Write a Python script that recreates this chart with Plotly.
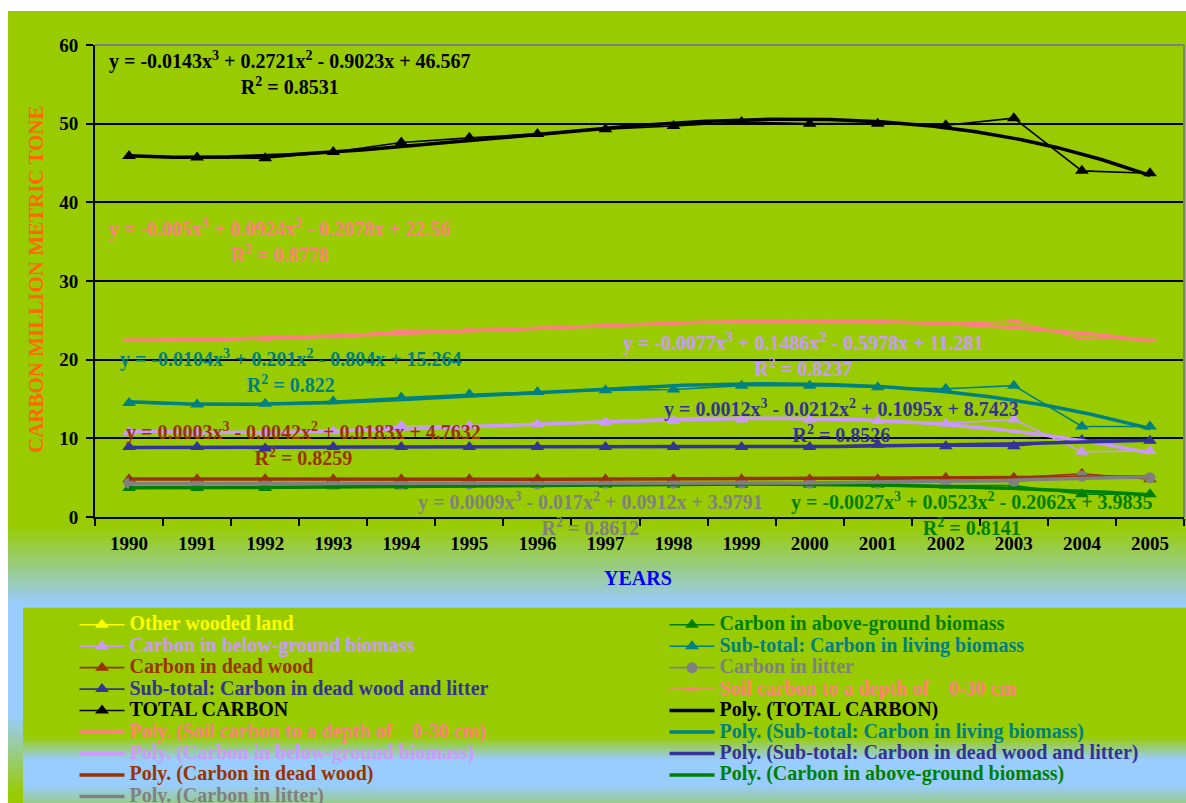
import numpy as np
import plotly.graph_objects as go

# ---------------- data ----------------
years = [str(y) for y in range(1990, 2006)]
other_wooded = [None] * 16
above_ground = [3.7, 3.7, 3.7, 3.9, 3.9, 4.1, 4.1, 4.1, 4.1, 4.1, 4.1, 4.1, 4.0, 4.0, 2.9, 2.9]
below_ground = [10.8, 10.8, 10.7, 10.9, 11.6, 11.6, 11.8, 12.0, 12.2, 12.4, 12.4, 12.2, 11.9, 12.4, 8.3, 8.4]
living_sub = [14.5, 14.3, 14.4, 14.7, 15.2, 15.6, 15.9, 16.1, 16.2, 16.7, 16.7, 16.5, 16.3, 16.7, 11.5, 11.5]
dead_wood = [4.8, 4.8, 4.8, 4.8, 4.8, 4.8, 4.8, 4.8, 4.8, 4.8, 4.8, 4.8, 5.0, 5.0, 5.5, 4.8]
litter = [4.3, 4.2, 4.2, 4.2, 4.2, 4.2, 4.2, 4.3, 4.3, 4.3, 4.3, 4.3, 4.5, 4.5, 5.2, 5.0]
dead_litter_sub = [8.9, 8.9, 8.7, 8.9, 8.9, 8.9, 8.9, 8.9, 8.9, 8.9, 8.9, 9.2, 9.0, 9.0, 9.8, 9.7]
soil = [22.5, 22.5, 22.6, 22.9, 23.7, 23.8, 24.0, 24.4, 24.6, 24.8, 24.8, 24.7, 24.6, 24.9, 22.7, 22.5]
total = [45.9, 45.7, 45.6, 46.4, 47.6, 48.2, 48.7, 49.3, 49.7, 50.2, 50.0, 50.0, 49.8, 50.7, 44.0, 43.7]

eq_total = ["y = -0.0143x<sup>3</sup> + 0.2721x<sup>2</sup> - 0.9023x + 46.567", "R<sup>2</sup> = 0.8531"]
eq_soil = ["y = -0.005x<sup>3</sup> + 0.0924x<sup>2</sup> - 0.2078x + 22.56", "R<sup>2</sup> = 0.8778"]
eq_living = ["y = -0.0104x<sup>3</sup> + 0.201x<sup>2</sup> - 0.804x + 15.264", "R<sup>2</sup> = 0.822"]
eq_below = ["y = -0.0077x<sup>3</sup> + 0.1486x<sup>2</sup> - 0.5978x + 11.281", "R<sup>2</sup> = 0.8237"]
eq_deadlitter = ["y = 0.0012x<sup>3</sup> - 0.0212x<sup>2</sup> + 0.1095x + 8.7423", "R<sup>2</sup> = 0.8526"]
eq_dead = ["y = 0.0003x<sup>3</sup> - 0.0042x<sup>2</sup> + 0.0183x + 4.7632", "R<sup>2</sup> = 0.8259"]
eq_litter = ["y = 0.0009x<sup>3</sup> - 0.017x<sup>2</sup> + 0.0912x + 3.9791", "R<sup>2</sup> = 0.8612"]
eq_above = ["y = -0.0027x<sup>3</sup> + 0.0523x<sup>2</sup> - 0.2062x + 3.9835", "R<sup>2</sup> = 0.8141"]

# ---------------- layout helpers ----------------
W, H = 1186, 803
X0, X1, YT, YB = 95, 1184, 45, 517
FONT = "Liberation Serif"


def fx(p):
    return (p - X0) / (X1 - X0)


def fy(p):
    return (YB - p) / (YB - YT)


GREEN = (0x99, 0xCC, 0x00)
BLUE = (0x99, 0xCC, 0xFF)


def interp(y, stops):
    if y <= stops[0][0]:
        c = stops[0][1]
    elif y >= stops[-1][0]:
        c = stops[-1][1]
    else:
        for (ya, ca), (yb, cb) in zip(stops[:-1], stops[1:]):
            if ya <= y <= yb:
                t = (y - ya) / (yb - ya) if yb > ya else 0
                c = tuple(ca[i] + (cb[i] - ca[i]) * t for i in range(3))
                break
    return "rgb(%d,%d,%d)" % tuple(int(round(v)) for v in c)


shapes = []


def rect(x0, x1, y0, y1, color):
    shapes.append(dict(type="rect", xref="paper", yref="paper",
                       x0=fx(x0), x1=fx(x1), y0=fy(y1), y1=fy(y0),
                       fillcolor=color, line_width=0, layer="below"))


def gradient(x0, x1, y0, y1, stops, step=3):
    y = y0
    while y < y1:
        y2 = min(y + step, y1)
        rect(x0, x1, y - 0.3, y2 + 0.3, interp((y + y2) / 2, stops))
        y = y2


# outer chart area
rect(8, W, 11, 527, "rgb(153,204,0)")
gradient(8, W, 526, H, [(526, GREEN), (605, BLUE), (715, BLUE), (795, GREEN)])
# legend box
gradient(23, W, 608, H, [(608, GREEN), (737, GREEN), (760, BLUE), (785, BLUE), (803, (0x99, 0xCC, 0x90))])

# plot border (top/right gray)
shapes.append(dict(type="line", xref="paper", yref="paper", x0=0, x1=1, y0=1, y1=1,
                   line=dict(color="#808080", width=2), layer="above"))
shapes.append(dict(type="line", xref="paper", yref="paper", x0=1, x1=1, y0=0, y1=1,
                   line=dict(color="#808080", width=2), layer="above"))

fig = go.Figure()


def span(name, color, size=20):
    return '<span style="color:%s;font-size:%dpx">%s</span>' % (color, size, name)


series = [
    ("Other wooded land", other_wooded, "#FFFF00", "triangle-up", "legend"),
    ("Carbon in above-ground biomass", above_ground, "#008000", "triangle-up", "legend2"),
    ("Carbon in below-ground biomass", below_ground, "#CC99FF", "triangle-up", "legend"),
    ("Sub-total: Carbon in living biomass", living_sub, "#008080", "triangle-up", "legend2"),
    ("Carbon in dead wood", dead_wood, "#993300", "triangle-up", "legend"),
    ("Carbon in litter", litter, "#808080", "circle", "legend2"),
    ("Sub-total: Carbon in dead wood and litter", dead_litter_sub, "#333399", "triangle-up", "legend"),
    ("Soil carbon to a depth of &nbsp;&nbsp;&nbsp;0-30 cm", soil, "#FF8080", "line-ew", "legend2"),
    ("TOTAL CARBON", total, "#000000", "triangle-up", "legend"),
]

for name, vals, color, sym, lg in series:
    if sym == "line-ew":
        marker = dict(symbol=sym, size=9, color=color, line=dict(color=color, width=3))
    else:
        marker = dict(symbol=sym, size=12 if sym == "triangle-up" else 11, color=color,
                      line=dict(width=0))
    fig.add_trace(go.Scatter(x=years, y=vals, mode="lines+markers", name=span(name, color),
                             line=dict(color=color, width=1.6), marker=marker,
                             legend=lg, xaxis="x", yaxis="y", cliponaxis=False))

# polynomial (order 3) trendlines, fitted to the series like the spreadsheet does
trends = [
    ("Poly. (TOTAL CARBON)", total, "#000000", "legend2"),
    ("Poly. (Soil carbon to a depth of &nbsp;&nbsp;&nbsp;0-30 cm)", soil, "#FF8080", "legend"),
    ("Poly. (Sub-total: Carbon in living biomass)", living_sub, "#008080", "legend2"),
    ("Poly. (Carbon in below-ground biomass)", below_ground, "#CC99FF", "legend"),
    ("Poly. (Sub-total: Carbon in dead wood and litter)", dead_litter_sub, "#333399", "legend2"),
    ("Poly. (Carbon in dead wood)", dead_wood, "#993300", "legend"),
    ("Poly. (Carbon in above-ground biomass)", above_ground, "#008000", "legend2"),
    ("Poly. (Carbon in litter)", litter, "#808080", "legend"),
]
xi = np.arange(1, len(years) + 1)
xs = np.linspace(1, len(years), 300)
for name, vals, color, lg in trends:
    coef = np.polyfit(xi, np.array(vals, dtype=float), 3)
    ys = np.polyval(coef, xs)
    fig.add_trace(go.Scatter(x=xs - 1, y=ys, mode="lines", name=span(name, color),
                             line=dict(color=color, width=3.5), legend=lg,
                             xaxis="x2", yaxis="y"))

# equations
annotations = []


def eq(lines, color, cx, cy):
    annotations.append(dict(text="<br>".join(lines), x=fx(cx), y=fy(cy), xref="paper", yref="paper",
                            showarrow=False, align="center", xanchor="center", yanchor="middle",
                            font=dict(family=FONT, size=20, color=color, weight="bold")))


eq(eq_total, "#000000", 290, 73)
eq(eq_soil, "#FF8080", 280, 241)
eq(eq_living, "#008080", 291, 371)
eq(eq_below, "#CC99FF", 803, 355)
eq(eq_deadlitter, "#333399", 841, 421)
eq(eq_dead, "#993300", 303, 444)
eq(eq_litter, "#808080", 590, 514)
eq(eq_above, "#008000", 972, 514)

annotations.append(dict(text="CARBON MILLION METRIC TONE", x=fx(36), y=fy(279), xref="paper", yref="paper",
                        showarrow=False, textangle=-90, xanchor="center", yanchor="middle",
                        font=dict(family=FONT, size=21, color="#FF6600", weight="bold")))
annotations.append(dict(text="YEARS", x=fx(638), y=fy(578), xref="paper", yref="paper",
                        showarrow=False, xanchor="center", yanchor="middle",
                        font=dict(family=FONT, size=20, color="#0000FF", weight="bold")))

legend_common = dict(bgcolor="rgba(0,0,0,0)", borderwidth=0, orientation="v",
                     font=dict(family=FONT, size=14.2, color="#000000", weight="bold"),
                     itemwidth=45, xanchor="left", yanchor="top", valign="middle",
                     itemclick=False, itemdoubleclick=False)

fig.update_layout(
    width=W, height=H,
    margin=dict(l=X0, r=W - X1, t=YT, b=H - YB, autoexpand=False),
    paper_bgcolor="#FFFFFF", plot_bgcolor="rgb(153,204,0)",
    showlegend=True,
    shapes=shapes, annotations=annotations,
    xaxis=dict(type="category", categoryorder="array", categoryarray=years,
               range=[-0.5, 15.5], showline=True, linecolor="#000000", linewidth=2,
               ticks="outside", ticklen=7, tickwidth=2, tickcolor="#000000", tickson="boundaries",
               showgrid=False, zeroline=False, ticklabelstandoff=8, automargin=False,
               tickfont=dict(family=FONT, size=19, color="#000000", weight="bold")),
    xaxis2=dict(overlaying="x", range=[-0.5, 15.5], visible=False, anchor="y"),
    yaxis=dict(range=[0, 60], tickvals=[0, 10, 20, 30, 40, 50, 60], showline=True,
               linecolor="#000000", linewidth=2, ticks="outside", ticklen=7, tickwidth=2,
               tickcolor="#000000", showgrid=True, gridcolor="#000000", gridwidth=1.5,
               zeroline=False, ticklabelstandoff=4, automargin=False,
               tickfont=dict(family=FONT, size=19, color="#000000", weight="bold")),
    legend=dict(x=fx(74.5), y=fy(609), **legend_common),
    legend2=dict(x=fx(664.5), y=fy(609), **legend_common),
)

fig.write_html("out.html", config={"displayModeBar": False},
               post_script="document.body.style.margin='0px';document.body.style.overflow='hidden';")
